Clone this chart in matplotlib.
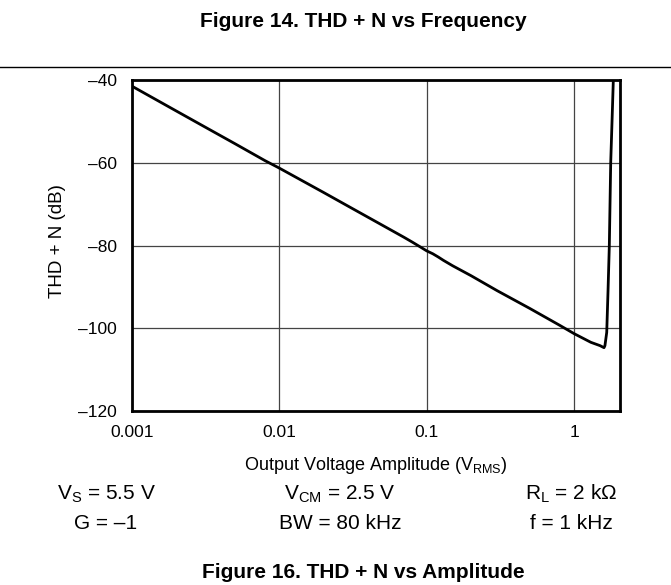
import matplotlib
matplotlib.use("Agg")
import matplotlib.pyplot as plt
from matplotlib.ticker import FixedLocator, NullLocator

plt.rcParams['font.family'] = ['Liberation Sans', 'DejaVu Sans']
plt.rcParams['mathtext.fontset'] = 'custom'
plt.rcParams['mathtext.rm'] = 'Liberation Sans'
plt.rcParams['mathtext.it'] = 'Liberation Sans'
plt.rcParams['mathtext.bf'] = 'Liberation Sans:bold'

# Data
amplitude_vrms = [0.001, 0.002, 0.003, 0.005, 0.008, 0.01, 0.02, 0.03, 0.05, 0.07, 0.08,
                  0.09, 0.1, 0.11, 0.12, 0.13, 0.15, 0.2, 0.3, 0.5, 0.8, 1.0, 1.3,
                  1.5, 1.597, 1.62, 1.666, 1.70, 1.735, 1.773, 1.81, 1.847]
thdn_db = [-41.5, -47.5, -51.0, -55.4, -59.5, -61.3, -67.2, -70.7, -75.1, -78.0, -79.2,
           -80.3, -81.3, -82.0, -82.8, -83.6, -84.9, -87.3, -90.9, -95.2, -99.3, -101.3, -103.4,
           -104.2, -104.7, -104.2, -101.0, -91.0, -80.0, -60.0, -50.0, -40.0]

x_ticks = [0.001, 0.01, 0.1, 1]
x_tick_labels = ["0.001", "0.01", "0.1", "1"]
y_ticks = [-120, -100, -80, -60, -40]
y_tick_labels = ["\u2013120", "\u2013100", "\u201380", "\u201360", "\u201340"]

W, H = 671, 585
fig = plt.figure(figsize=(W/100, H/100), dpi=100)
ax = fig.add_axes([132/W, 1-411/H, (620-132)/W, (411-80)/H])

ax.plot(amplitude_vrms, thdn_db, color='black', lw=2.0, solid_joinstyle='round')
ax.set_xscale('log')
ax.set_xlim(0.001, 2.05)
ax.set_ylim(-120, -40)
ax.xaxis.set_major_locator(FixedLocator(x_ticks))
ax.xaxis.set_minor_locator(NullLocator())
ax.set_xticklabels(x_tick_labels)
ax.set_yticks(y_ticks)
ax.set_yticklabels(y_tick_labels)
ax.tick_params(length=0, labelsize=12.5)
ax.tick_params(axis='x', pad=10)
ax.tick_params(axis='y', pad=11)
ax.grid(True, color='#444444', lw=0.9)
for s in ax.spines.values():
    s.set_linewidth(2.0)
    s.set_color('black')

def px(x, y):
    return x / W, 1 - y / H

fig.text(*px(375.5, 470), r"Output Voltage Amplitude (V$_{\mathregular{RMS}}$)",
         ha='center', va='baseline', fontsize=13)
fig.text(*px(58, 241), "THD + N (dB)", ha='center', va='center', rotation=90, fontsize=13.5)

# header
fig.text(*px(363, 27.3), "Figure 14. THD + N vs Frequency", ha='center', va='baseline',
         fontsize=15, fontweight='bold')
fig.add_artist(plt.Line2D([0, 1], [1-66.7/H, 1-66.7/H], color='black', lw=1.0))

# conditions
row1 = [r"V$_\mathregular{S}$ = 5.5 V", r"V$_\mathregular{CM}$ = 2.5 V", r"R$_\mathregular{L}$ = 2 k$\Omega$"]
row2 = ["G = \u20131", "BW = 80 kHz", "f = 1 kHz"]
cols = [106, 340, 571]
for cx, t in zip(cols, row1):
    fig.text(*px(cx, 500), t, ha='center', va='baseline', fontsize=15)
for cx, t in zip(cols, row2):
    fig.text(*px(cx, 529), t, ha='center', va='baseline', fontsize=15)

fig.text(*px(363, 577.7), "Figure 16. THD + N vs Amplitude", ha='center', va='baseline',
         fontsize=15, fontweight='bold')

fig.savefig("out.png", dpi=100)
